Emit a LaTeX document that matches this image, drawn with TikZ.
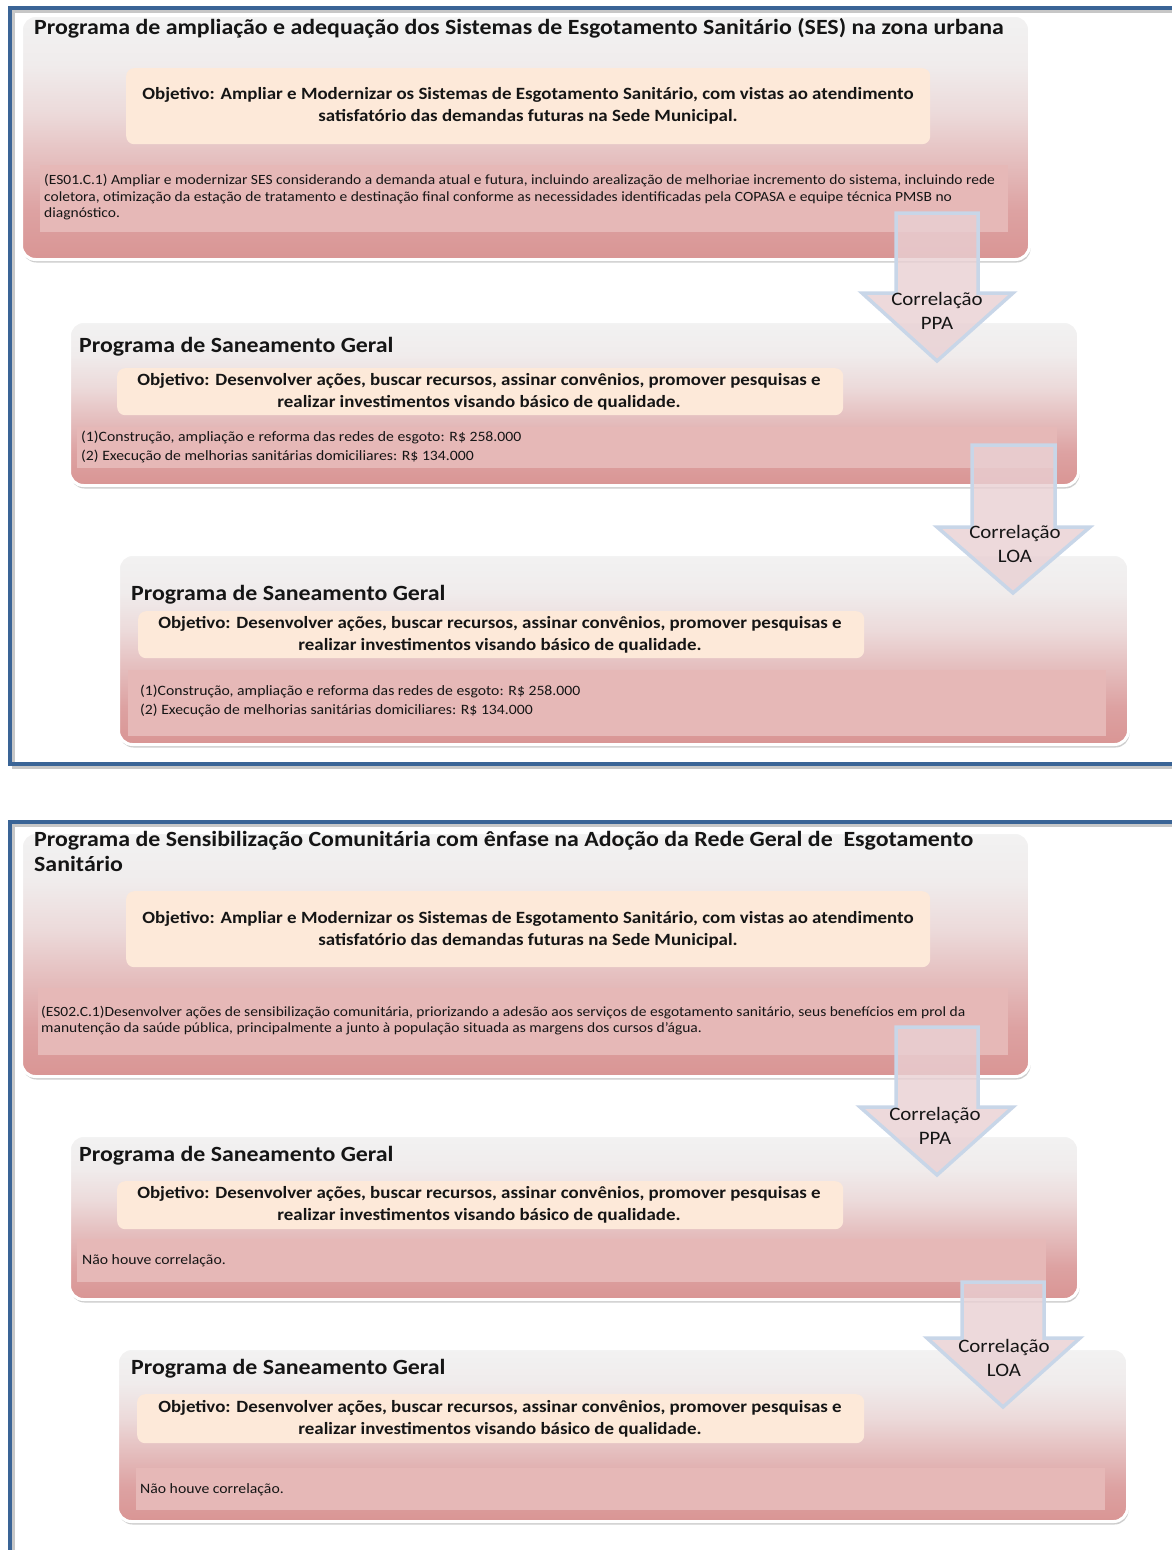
\documentclass[tikz,border=0pt]{standalone}
\usepackage{fontspec}
\setmainfont{Carlito}[FakeStretch=1.10]
\usetikzlibrary{shadows}
\definecolor{frameblue}{HTML}{3A6496}
\definecolor{pkD}{HTML}{D99594}
\definecolor{pkD2}{HTML}{DDA2A2}
\definecolor{pkM}{HTML}{E6C3C3}
\definecolor{gyM}{HTML}{ECDADA}
\definecolor{gyU}{HTML}{F0ECEC}
\definecolor{gyT}{HTML}{F2F2F2}
\definecolor{objfill}{HTML}{FDE9D9}
\definecolor{descfill}{HTML}{E6B8B7}
\definecolor{arrowline}{HTML}{C8D6E8}
\definecolor{arrowfill}{HTML}{E9D0D3}
\definecolor{txt}{HTML}{151515}
\pgfdeclareverticalshading{boxshade}{100bp}{color(0bp)=(pkD); color(25bp)=(pkD); color(35bp)=(pkD2); color(47bp)=(pkM); color(55bp)=(gyM); color(65bp)=(gyU); color(75bp)=(gyT); color(100bp)=(gyT)}
\tikzset{
  bigbox/.style={draw=white, line width=3pt, rounded corners=14pt, shading=boxshade,
    drop shadow={shadow xshift=1pt, shadow yshift=-3pt, opacity=0.35, fill=black!55},
    anchor=north west, inner sep=0pt},
  objbox/.style={fill=objfill, rounded corners=8pt, anchor=north west, inner sep=0pt},
  descbox/.style={fill=descfill, anchor=north west, inner sep=0pt},
  titletxt/.style={anchor=west, inner sep=0pt, text=txt, font=\fontsize{21.7}{25}\selectfont\bfseries, align=left},
  objtxt/.style={inner sep=0pt, text=txt, font=\fontsize{17.2}{22}\selectfont\bfseries, align=center},
  desctxt/.style={anchor=west, inner sep=0pt, text=txt, font=\fontsize{14.1}{16.5}\selectfont, align=left},
  desctxtb/.style={anchor=west, inner sep=0pt, text=txt, font=\fontsize{14.3}{19}\selectfont, align=left},
  arrowtxt/.style={inner sep=0pt, text=txt, font=\fontsize{19}{24}\selectfont, align=center},
  blockarrow/.style={draw=arrowline, line width=3.5pt, fill=arrowfill, fill opacity=0.8, line join=miter},
  frameline/.style={draw=frameblue, line width=3.5pt},
  frameshadow/.style={draw=black!22, line width=3pt}
}
\begin{document}
\begin{tikzpicture}[x=1pt,y=-1pt]
\useasboundingbox (0,0) rectangle (1171,1550);
\fill[white] (0,0) rectangle (1171,1550);

% ---------- frames ----------
\coordinate (f1a) at (1175,8);
\coordinate (f1b) at (10,8);
\coordinate (f1c) at (10,764);
\coordinate (f1d) at (1175,764);
\draw[frameshadow] ([shift={(0,3)}]f1a) -- ([shift={(3,3)}]f1b) -- ([shift={(3,3)}]f1c) -- ([shift={(0,3)}]f1d);
\draw[frameline] (f1a) -- (f1b) -- (f1c) -- (f1d);
\coordinate (f2a) at (1175,822);
\coordinate (f2b) at (10,822);
\coordinate (f2c) at (10,1560);
\draw[frameshadow] ([shift={(0,3)}]f2a) -- ([shift={(3,3)}]f2b) -- ([shift={(3,0)}]f2c);
\draw[frameline] (f2a) -- (f2b) -- (f2c);

% ---------- section 1 ----------
\node[bigbox, minimum width=1008pt, minimum height=244pt] (b1) at (20,14) {};
\node[objbox, minimum width=804pt, minimum height=76pt] (o1) at (126,68) {};
\node[descbox, minimum width=968pt, minimum height=67pt] (d1) at (40,165) {};
\node[titletxt] (t1) at (34,28) {Programa de ampliação e adequação dos Sistemas de Esgotamento Sanitário (SES) na zona urbana};
\node[objtxt] (ot1) at (528,106) {Objetivo: Ampliar e Modernizar os Sistemas de Esgotamento Sanitário, com vistas ao atendimento\\satisfatório das demandas futuras na Sede Municipal.};
\node[desctxt] (dt1) at (44,197.5) {(ES01.C.1) Ampliar e modernizar SES considerando a demanda atual e futura, incluindo arealização de melhoriae incremento do sistema, incluindo rede\\coletora, otimização da estação de tratamento e destinação final conforme as necessidades identificadas pela COPASA e equipe técnica PMSB no\\diagnóstico.};

\node[bigbox, minimum width=1009pt, minimum height=164pt] (b2) at (68,320) {};
\node[objbox, minimum width=726pt, minimum height=47pt] (o2) at (117,368) {};
\node[descbox, minimum width=980pt, minimum height=41pt] (d2) at (77,427) {};
\node[titletxt] (t2) at (79,347) {Programa de Saneamento Geral};
\node[objtxt] (ot2) at (479,392) {Objetivo: Desenvolver ações, buscar recursos, assinar convênios, promover pesquisas e\\realizar investimentos visando básico de qualidade.};
\node[desctxtb] (dt2) at (81,446.5) {(1)Construção, ampliação e reforma das redes de esgoto: R\$ 258.000\\(2) Execução de melhorias sanitárias domiciliares: R\$ 134.000};

\node[bigbox, minimum width=1010pt, minimum height=190pt] (b3) at (117,553) {};
\node[objbox, minimum width=726pt, minimum height=47pt] (o3) at (138,611) {};
\node[descbox, minimum width=978pt, minimum height=66pt] (d3) at (128,670) {};
\node[titletxt] (t3) at (131,595) {Programa de Saneamento Geral};
\node[objtxt] (ot3) at (500,635) {Objetivo: Desenvolver ações, buscar recursos, assinar convênios, promover pesquisas e\\realizar investimentos visando básico de qualidade.};
\node[desctxtb] (dt3) at (140,700.5) {(1)Construção, ampliação e reforma das redes de esgoto: R\$ 258.000\\(2) Execução de melhorias sanitárias domiciliares: R\$ 134.000};

% ---------- section 2 ----------
\node[bigbox, minimum width=1008pt, minimum height=244pt] (b4) at (20,831) {};
\node[objbox, minimum width=804pt, minimum height=76pt] (o4) at (126,891) {};
\node[descbox, minimum width=970pt, minimum height=67pt] (d4) at (38,988) {};
\node[titletxt] (t4) at (34,851.5) {Programa de Sensibilização Comunitária com ênfase na Adoção da Rede Geral de \ Esgotamento\\Sanitário};
\node[objtxt] (ot4) at (528,930) {Objetivo: Ampliar e Modernizar os Sistemas de Esgotamento Sanitário, com vistas ao atendimento\\satisfatório das demandas futuras na Sede Municipal.};
\node[desctxt] (dt4) at (41,1020.5) {(ES02.C.1)Desenvolver ações de sensibilização comunitária, priorizando a adesão aos serviços de esgotamento sanitário, seus benefícios em prol da\\manutenção da saúde pública, principalmente a junto à população situada as margens dos cursos d’água.};

\node[bigbox, minimum width=1009pt, minimum height=164pt] (b5) at (68,1134) {};
\node[objbox, minimum width=726pt, minimum height=48pt] (o5) at (117,1181) {};
\node[descbox, minimum width=969pt, minimum height=43pt] (d5) at (77,1239) {};
\node[titletxt] (t5) at (79,1156) {Programa de Saneamento Geral};
\node[objtxt] (ot5) at (479,1205) {Objetivo: Desenvolver ações, buscar recursos, assinar convênios, promover pesquisas e\\realizar investimentos visando básico de qualidade.};
\node[desctxtb] (dt5) at (82,1261) {Não houve correlação.};

\node[bigbox, minimum width=1010pt, minimum height=173pt] (b6) at (116,1347) {};
\node[objbox, minimum width=727pt, minimum height=49pt] (o6) at (137,1394) {};
\node[descbox, minimum width=969pt, minimum height=42pt] (d6) at (136,1468) {};
\node[titletxt] (t6) at (131,1369) {Programa de Saneamento Geral};
\node[objtxt] (ot6) at (500,1419) {Objetivo: Desenvolver ações, buscar recursos, assinar convênios, promover pesquisas e\\realizar investimentos visando básico de qualidade.};
\node[desctxtb] (dt6) at (140,1490) {Não houve correlação.};

% ---------- block arrows ----------
\draw[blockarrow] (896,213) -- (978,213) -- (978,293) -- (1013,293) -- (937,361) -- (862,293) -- (896,293) -- cycle;
\node[arrowtxt] (a1) at (937,311) {Correlação\\PPA};
\draw[blockarrow] (972,445) -- (1055,445) -- (1055,527) -- (1090,527) -- (1013,593) -- (937,527) -- (972,527) -- cycle;
\node[arrowtxt] (a2) at (1015,544) {Correlação\\LOA};
\draw[blockarrow] (896,1027) -- (978,1027) -- (978,1107) -- (1013,1107) -- (937,1175) -- (860,1107) -- (896,1107) -- cycle;
\node[arrowtxt] (a3) at (935,1126) {Correlação\\PPA};
\draw[blockarrow] (962,1282) -- (1044,1282) -- (1044,1338) -- (1080,1338) -- (1003,1407) -- (927,1338) -- (962,1338) -- cycle;
\node[arrowtxt] (a4) at (1004,1358) {Correlação\\LOA};
\end{tikzpicture}
\end{document}
